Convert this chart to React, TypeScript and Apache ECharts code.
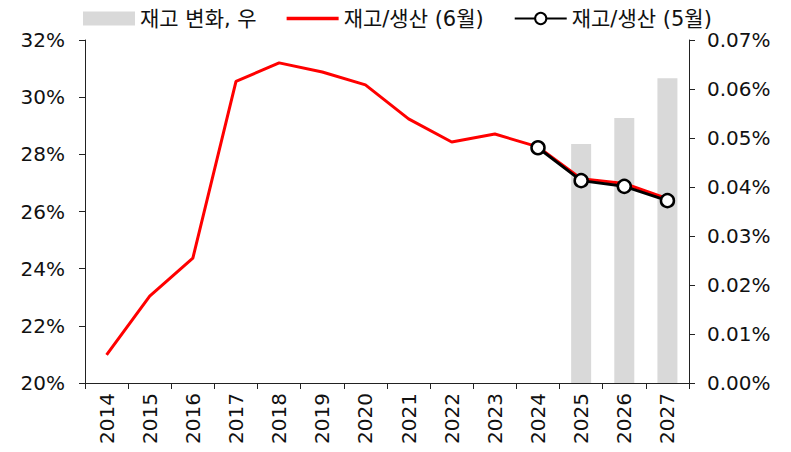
import React, { useEffect, useRef } from "react";
import * as echarts from "echarts";

const years = ["2014","2015","2016","2017","2018","2019","2020","2021","2022","2023","2024","2025","2026","2027"];
const invChange = [null,null,null,null,null,null,null,null,null,null,null,0.0488,0.0541,0.0622];
const ratioJun = [20.98,23.04,24.37,30.55,31.2,30.88,30.43,29.24,28.43,28.71,28.26,27.15,26.98,26.45];
const ratioMay = [null,null,null,null,null,null,null,null,null,null,28.23,27.08,26.88,26.38];

const FONT = "DejaVu Sans, Noto Sans CJK KR, sans-serif";

export default function App() {
  const ref = useRef<HTMLDivElement>(null);
  useEffect(() => {
    const chart = echarts.init(ref.current!, null, { renderer: "svg" });
    chart.setOption({
      animation: false,
      textStyle: { fontFamily: FONT },
      legend: {
        left: 78,
        top: 3,
        itemWidth: 52,
        itemHeight: 14,
        itemGap: 30,
        textStyle: { fontSize: 21, color: "#111", fontFamily: FONT },
        data: [
          { name: "재고 변화, 우", icon: "rect" },
          { name: "재고/생산 (6월)", icon: "path://M0,0 L52,0 L52,3.5 L0,3.5 Z" },
          { name: "재고/생산 (5월)" },
        ],
      },
      grid: { left: 85, right: 102, top: 40, bottom: 69 },
      xAxis: {
        type: "category",
        data: years,
        boundaryGap: true,
        axisLine: { lineStyle: { color: "#222", width: 1 } },
        axisTick: { show: true, length: 6, lineStyle: { color: "#222" } },
        axisLabel: { rotate: 90, fontSize: 20, color: "#111", margin: 10, fontFamily: FONT },
      },
      yAxis: [
        {
          type: "value",
          min: 20,
          max: 32,
          interval: 2,
          position: "left",
          splitLine: { show: false },
          axisLine: { show: true, lineStyle: { color: "#222" } },
          axisTick: { show: true, length: 6, lineStyle: { color: "#222" } },
          axisLabel: { fontSize: 20, color: "#111", margin: 20, formatter: (v: number) => v + "%", fontFamily: FONT },
        },
        {
          type: "value",
          min: 0,
          max: 0.07,
          interval: 0.01,
          position: "right",
          splitLine: { show: false },
          axisLine: { show: true, lineStyle: { color: "#222" } },
          axisTick: { show: true, length: 6, lineStyle: { color: "#222" } },
          axisLabel: { fontSize: 20, color: "#111", margin: 18, formatter: (v: number) => v.toFixed(2) + "%", fontFamily: FONT },
        },
      ],
      series: [
        {
          name: "재고 변화, 우",
          type: "bar",
          yAxisIndex: 1,
          data: invChange,
          barWidth: 20,
          itemStyle: { color: "#d9d9d9" },
        },
        {
          name: "재고/생산 (6월)",
          type: "line",
          data: ratioJun,
          showSymbol: false,
          symbol: "none",
          lineStyle: { color: "#ff0000", width: 3 },
          itemStyle: { color: "#ff0000" },
        },
        {
          name: "재고/생산 (5월)",
          type: "line",
          data: ratioMay,
          symbol: "circle",
          symbolSize: 13,
          lineStyle: { color: "#000", width: 3 },
          itemStyle: { color: "#fff", borderColor: "#000", borderWidth: 2.5 },
        },
      ],
    });
    return () => chart.dispose();
  }, []);
  return <div ref={ref} style={{ width: 791, height: 452, position: "absolute", left: 0, top: 0 }} />;
}
